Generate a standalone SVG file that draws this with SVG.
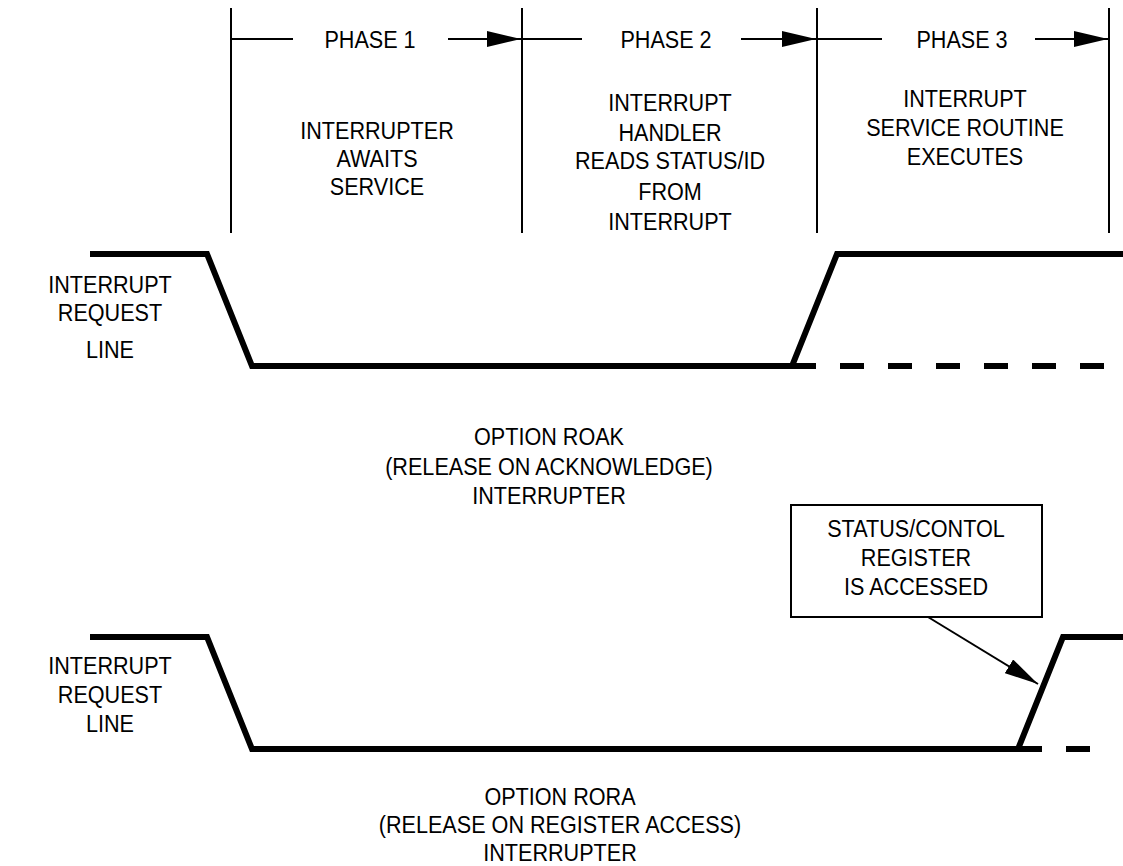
<svg xmlns="http://www.w3.org/2000/svg" width="1123" height="866" viewBox="0 0 1123 866">
<style>
text{font-family:"Liberation Sans",Arial,sans-serif;font-size:24px;fill:#000;text-anchor:middle}
.thin{stroke:#000;stroke-width:2;fill:none}
.wave{stroke:#000;stroke-width:6;fill:none;stroke-linejoin:miter}
.dash{stroke:#000;stroke-width:6;fill:none;stroke-dasharray:24 24}
</style>
<defs>
<marker id="ah" viewBox="0 0 34 16" refX="34" refY="8" markerWidth="34" markerHeight="16" markerUnits="userSpaceOnUse" orient="auto">
<path d="M0,0 L34,8 L0,16 Z" fill="#000"/>
</marker>
</defs>
<rect width="1123" height="866" fill="#fff"/>
<g id="connectors">
<line class="thin" x1="231" y1="8" x2="231" y2="233"/>
<line class="thin" x1="522" y1="8" x2="522" y2="233"/>
<line class="thin" x1="817" y1="8" x2="817" y2="233"/>
<line class="thin" x1="1109" y1="8" x2="1109" y2="233"/>
<line class="thin" x1="231" y1="39" x2="293" y2="39"/>
<line class="thin" x1="448" y1="39" x2="521" y2="39" marker-end="url(#ah)"/>
<line class="thin" x1="522" y1="39" x2="582" y2="39"/>
<line class="thin" x1="741" y1="39" x2="816" y2="39" marker-end="url(#ah)"/>
<line class="thin" x1="817" y1="39" x2="882" y2="39"/>
<line class="thin" x1="1035" y1="39" x2="1108" y2="39" marker-end="url(#ah)"/>
<polyline class="wave" points="90,254 207,254 252,366 792,366 837,254 1123,254"/>
<line class="dash" x1="792" y1="366" x2="1105" y2="366"/>
<polyline class="wave" points="90,637 207,637 252,749 1018,749 1063,637 1123,637"/>
<line class="dash" x1="1018" y1="749" x2="1105" y2="749"/>
<line class="thin" x1="928" y1="617" x2="1038" y2="684" marker-end="url(#ah)"/>
</g>
<g id="phase1" transform="scale(0.9,1)">
<text x="411.11" y="48">PHASE 1</text>
<text x="418.89" y="139">INTERRUPTER</text>
<text x="418.89" y="167">AWAITS</text>
<text x="418.89" y="195">SERVICE</text>
</g>
<g id="phase2" transform="scale(0.9,1)">
<text x="740" y="48">PHASE 2</text>
<text x="744.44" y="111">INTERRUPT</text>
<text x="744.44" y="141">HANDLER</text>
<text x="744.44" y="169">READS STATUS/ID</text>
<text x="744.44" y="200">FROM</text>
<text x="744.44" y="230">INTERRUPT</text>
</g>
<g id="phase3" transform="scale(0.9,1)">
<text x="1068.89" y="48">PHASE 3</text>
<text x="1072.22" y="107">INTERRUPT</text>
<text x="1072.22" y="136">SERVICE ROUTINE</text>
<text x="1072.22" y="165">EXECUTES</text>
</g>
<g id="label1" transform="scale(0.9,1)">
<text x="122.22" y="293">INTERRUPT</text>
<text x="122.22" y="321">REQUEST</text>
<text x="122.22" y="358">LINE</text>
</g>
<g id="caption1" transform="scale(0.9,1)">
<text x="610" y="445">OPTION ROAK</text>
<text x="610" y="475">(RELEASE ON ACKNOWLEDGE)</text>
<text x="610" y="504">INTERRUPTER</text>
</g>
<g id="statusbox">
<rect x="791" y="505" width="251" height="112" fill="#fff" stroke="#000" stroke-width="2"/>
<g transform="scale(0.9,1)">
<text x="1017.78" y="537">STATUS/CONTOL</text>
<text x="1017.78" y="566">REGISTER</text>
<text x="1017.78" y="595">IS ACCESSED</text>
</g>
</g>
<g id="label2" transform="scale(0.9,1)">
<text x="122.22" y="674">INTERRUPT</text>
<text x="122.22" y="703">REQUEST</text>
<text x="122.22" y="732">LINE</text>
</g>
<g id="caption2" transform="scale(0.9,1)">
<text x="622.22" y="805">OPTION RORA</text>
<text x="622.22" y="833">(RELEASE ON REGISTER ACCESS)</text>
<text x="622.22" y="861">INTERRUPTER</text>
</g>
</svg>
